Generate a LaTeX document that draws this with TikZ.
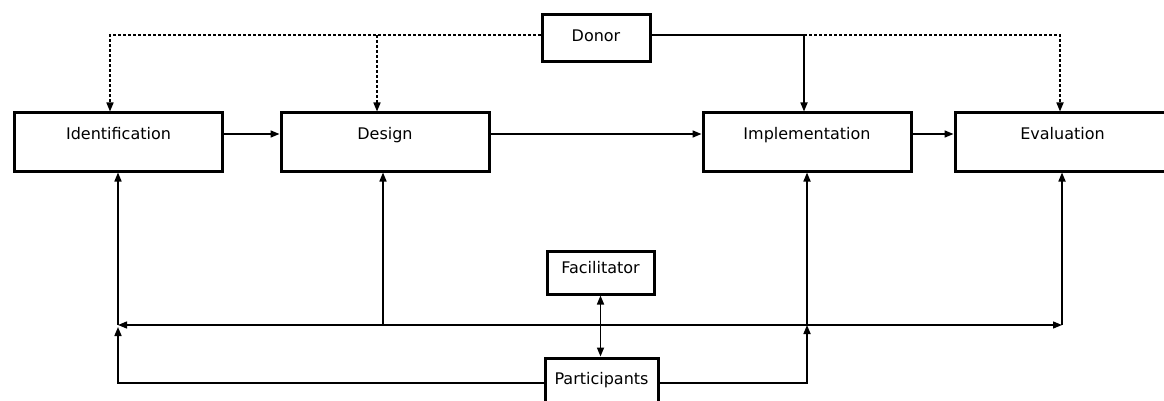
\documentclass[tikz,border=0pt]{standalone}
\usepackage{fontspec}
\setmainfont{DejaVu Sans}
\usetikzlibrary{arrows.meta}
\begin{document}
\begin{tikzpicture}[x=1pt,y=-1pt,
  box/.style={draw, line width=3pt, inner sep=0pt,
    font=\fontsize{16}{19}\selectfont, text height=12pt},
  stage/.style={box, minimum width=208pt, minimum height=58pt, text depth=16.4pt},
  conn/.style={line width=1.6pt, -{Triangle[length=9pt,width=7pt]}},
  both/.style={line width=1.6pt, {Triangle[length=9pt,width=7pt]}-{Triangle[length=9pt,width=7pt]}},
  dotconn/.style={conn, dash pattern=on 3pt off 2pt}
]
\path[use as bounding box] (0,0) rectangle (1164,401);
\fill[white] (0,0) rectangle (1164,401);
\clip (0,0) rectangle (1164,401);

% project stages
\node[stage] (ident)  at (118.5,142) {Identification};
\node[stage] (design) at (385,142)   {Design};
\node[stage] (impl)   at (807,142)   {Implementation};
\node[stage, minimum width=215pt] (eval) at (1062.5,142) {Evaluation};

% actors
\node[box, minimum width=108pt, minimum height=47pt, text depth=5.4pt] (donor) at (596,38.5) {Donor};
\node[box, minimum width=107pt, minimum height=43pt, text depth=9.4pt] (fac) at (600.5,272.5) {Facilitator};
\node[box, minimum width=113pt, minimum height=50pt, text depth=10pt] (part) at (601.5,383) {Participants};

% routing points
\coordinate (row) at (0,134);
\coordinate (kI) at (110,35);
\coordinate (kD) at (377,35);
\coordinate (kM) at (804,35);
\coordinate (kE) at (1060,35);
\coordinate (busL) at (118,325);
\coordinate (busR) at (1062,325);
\coordinate (vD) at (383,325);
\coordinate (vM) at (807,325);

% stage sequence
\draw[conn] (ident.east |- row) -- (design.west |- row);
\draw[conn] (design.east |- row) -- (impl.west |- row);
\draw[conn] (impl.east |- row) -- (eval.west |- row);

% donor links
\draw[dotconn] (donor.west |- kI) -- (kI) -- (kI |- ident.north);
\draw[dotconn] (kD) -- (kD |- design.north);
\draw[conn] (donor.east |- kM) -- (kM) -- (kM |- impl.north);
\draw[dotconn] (kM) -- (kE) -- (kE |- eval.north);

% participation bus
\draw[both, line width=1.3pt] (busL) -- (busR);
\draw[conn] (busL) -- (busL |- ident.south);
\draw[conn] (vD) -- (vD |- design.south);
\draw[conn] (vM) -- (vM |- impl.south);
\draw[conn] (busR) -- (busR |- eval.south);
\draw[conn, shorten >=2pt] (part.west) -| (busL);
\draw[conn] (part.east) -| (vM);
\draw[both] (fac.south) -- (fac.south |- part.north);
\end{tikzpicture}
\end{document}
